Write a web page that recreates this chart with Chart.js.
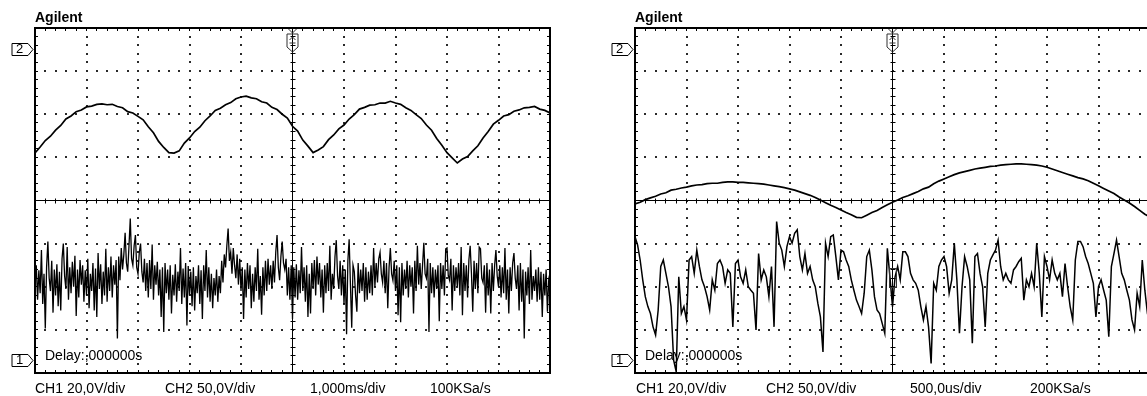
<!DOCTYPE html>
<html>
<head>
<meta charset="utf-8">
<script src="https://cdn.jsdelivr.net/npm/chart.js@4.4.0/dist/chart.umd.min.js"></script>
<style>
html, body { margin: 0; padding: 0; background: #fff; width: 1147px; height: 396px; overflow: hidden; }
.scope { position: absolute; top: 0; width: 600px; height: 396px; }
.scope canvas { position: absolute; left: 0; top: 0; }
.lbl { position: absolute; font-family: "Liberation Sans", Arial, sans-serif; font-size: 14px; line-height: 16px; color: #000; white-space: nowrap; }
.brand { font-weight: bold; }
.mark { font-size: 13px; line-height: 14px; }
</style>
</head>
<body>
<div class="scope" style="left:0">
  <canvas id="scopeLeft" width="600" height="396"></canvas>
  <div class="lbl brand" style="left:35px;top:9px">Agilent</div>
  <div class="lbl mark" style="left:16px;top:42px">2</div>
  <div class="lbl mark" style="left:16px;top:353px">1</div>
  <div class="lbl" style="left:45px;top:347px">Delay:,000000s</div>
  <div class="lbl" style="left:35px;top:380px">CH1 20,0V/div</div>
  <div class="lbl" style="left:165px;top:380px">CH2 50,0V/div</div>
  <div class="lbl" style="left:310px;top:380px">1,000ms/div</div>
  <div class="lbl" style="left:430px;top:380px">100KSa/s</div>
</div>
<div class="scope" style="left:600px">
  <canvas id="scopeRight" width="600" height="396"></canvas>
  <div class="lbl brand" style="left:35px;top:9px">Agilent</div>
  <div class="lbl mark" style="left:16px;top:42px">2</div>
  <div class="lbl mark" style="left:16px;top:353px">1</div>
  <div class="lbl" style="left:45px;top:347px">Delay:,000000s</div>
  <div class="lbl" style="left:36px;top:380px">CH1 20,0V/div</div>
  <div class="lbl" style="left:166px;top:380px">CH2 50,0V/div</div>
  <div class="lbl" style="left:310px;top:380px">500,0us/div</div>
  <div class="lbl" style="left:430px;top:380px">200KSa/s</div>
</div>
<script>
// screen is 10 x 8 divisions, values in divisions from centre
const xDivs = 10;
const yDivs = 4;
const refLevels = [3.5, -3.7];   // CH2, CH1 ground markers

// 1,000ms/div screen
const leftCh2 = [
  1.10, 1.24, 1.39, 1.49, 1.63, 1.74, 1.89, 1.96, 2.06, 2.10,
  2.17, 2.19, 2.23, 2.24, 2.22, 2.23, 2.18, 2.15, 2.06, 2.03,
  1.95, 1.87, 1.71, 1.57, 1.37, 1.23, 1.11, 1.10, 1.15, 1.33,
  1.45, 1.60, 1.70, 1.85, 1.96, 2.09, 2.14, 2.22, 2.27, 2.36,
  2.40, 2.42, 2.38, 2.36, 2.29, 2.26, 2.16, 2.11, 2.00, 1.91,
  1.72, 1.61, 1.40, 1.26, 1.11, 1.17, 1.25, 1.41, 1.52, 1.66,
  1.75, 1.89, 1.99, 2.12, 2.16, 2.21, 2.22, 2.26, 2.26, 2.30,
  2.26, 2.23, 2.15, 2.09, 1.99, 1.90, 1.75, 1.63, 1.44, 1.28,
  1.11, 0.99, 0.87, 0.96, 1.02, 1.15, 1.27, 1.45, 1.60, 1.77,
  1.86, 1.96, 1.99, 2.07, 2.10, 2.15, 2.16, 2.18, 2.12, 2.09,
  2.03
];
const leftCh1 = [
  -1.95, -1.50, -2.30, -1.62, -2.15, -1.15, -2.40, -1.70, -2.97, -1.55, -0.95, -1.80, -2.10, -1.40, -2.60, -1.60, -2.20, -1.48, -2.45, -1.65,
  -2.55, -1.35, -1.00, -1.75, -2.05, -1.08, -2.30, -1.55, -2.15, -1.42, -2.00, -1.28, -2.68, -1.60, -2.25, -1.38, -1.95, -1.50, -2.35, -1.62,
  -2.20, -1.35, -2.50, -1.70, -2.10, -1.45, -2.55, -1.58, -2.70, -1.22, -2.05, -1.48, -2.40, -1.65, -2.20, -1.12, -2.35, -1.55, -2.10, -1.30,
  -2.25, -1.50, -1.95, -1.38, -3.20, -1.30, -1.85, -1.10, -1.60, -1.25, -0.75, -1.45, -1.65, -1.05, -0.42, -1.35, -1.50, -1.05, -0.80, -1.55,
  -1.70, -1.20, -1.00, -1.65, -1.90, -1.35, -2.10, -1.45, -2.25, -1.38, -2.05, -1.02, -2.30, -1.50, -1.95, -1.42, -2.20, -1.60, -2.70, -1.55,
  -3.05, -1.45, -2.15, -1.60, -2.30, -1.50, -2.62, -1.72, -2.20, -1.48, -2.35, -1.65, -2.10, -1.10, -2.40, -1.58, -2.25, -1.45, -2.90, -1.52,
  -2.20, -1.65, -2.45, -1.55, -2.55, -1.75, -2.15, -1.50, -2.40, -1.62, -2.75, -1.50, -2.10, -1.15, -2.25, -1.55, -2.35, -1.70, -2.50, -1.80,
  -2.20, -1.60, -2.35, -1.75, -2.15, -1.40, -1.90, -1.25, -1.55, -1.05, -0.65, -1.40, -1.20, -1.70, -1.10, -1.50, -1.80, -1.25, -1.95, -1.35,
  -2.10, -1.55, -2.75, -1.60, -2.25, -1.45, -2.05, -1.50, -2.50, -1.70, -2.35, -1.55, -2.10, -1.12, -2.30, -1.75, -2.65, -1.55, -2.20, -1.40,
  -2.10, -1.35, -1.95, -1.50, -2.05, -1.40, -1.90, -1.20, -0.80, -1.55, -1.85, -1.30, -0.95, -1.45, -1.60, -1.35, -2.20, -1.55, -2.30, -1.50,
  -2.75, -1.55, -2.25, -1.48, -2.30, -1.62, -2.15, -1.08, -2.10, -1.55, -2.35, -1.50, -2.70, -1.70, -2.62, -1.45, -2.05, -1.38, -2.20, -1.30,
  -1.95, -1.45, -2.25, -1.60, -2.60, -1.50, -2.15, -1.45, -2.10, -1.05, -2.30, -1.70, -2.05, -1.30, -0.92, -1.75, -2.05, -1.40, -2.20, -1.50,
  -2.40, -1.60, -3.10, -1.40, -0.90, -1.95, -2.95, -1.50, -1.65, -2.20, -2.58, -1.45, -2.15, -1.60, -2.10, -1.45, -2.35, -1.55, -2.30, -1.65,
  -2.15, -1.50, -2.20, -1.10, -2.00, -1.45, -1.90, -1.35, -1.20, -1.70, -1.90, -1.40, -2.15, -1.45, -2.50, -1.55, -1.10, -1.70, -1.85, -1.40,
  -2.10, -1.50, -2.66, -1.55, -2.82, -1.45, -2.20, -1.60, -2.05, -1.40, -2.25, -1.50, -2.00, -1.55, -2.62, -1.40, -2.10, -1.05, -1.95, -1.45,
  -2.05, -1.50, -0.98, -1.70, -1.80, -1.35, -3.05, -1.45, -2.15, -1.55, -2.25, -1.60, -2.05, -1.50, -2.80, -1.45, -2.05, -1.50, -2.20, -1.12,
  -1.10, -1.75, -1.85, -1.35, -2.55, -1.50, -2.10, -1.55, -2.00, -1.45, -2.20, -1.08, -2.66, -1.45, -2.10, -1.50, -2.25, -1.38, -1.05, -1.70,
  -2.58, -1.40, -2.05, -1.45, -2.15, -1.08, -1.12, -1.80, -1.90, -1.50, -2.60, -1.45, -2.20, -1.60, -2.62, -1.45, -2.10, -1.50, -1.15, -1.75,
  -2.00, -1.50, -2.25, -1.55, -2.15, -1.10, -2.30, -1.60, -2.62, -1.55, -2.10, -1.45, -1.22, -1.80, -2.05, -1.50, -2.55, -1.45, -2.35, -1.60,
  -3.20, -1.65, -2.20, -1.55, -2.40, -1.15, -2.30, -1.75, -2.10, -1.60, -2.35, -1.55, -2.30, -1.65, -2.70, -1.70, -2.20, -1.60, -2.58, -1.85,
  -2.00
];

// 500,0us/div screen
const rightCh2 = [
  -0.08, -0.04, 0.02, 0.06, 0.10, 0.15, 0.18, 0.24, 0.26, 0.29,
  0.31, 0.34, 0.36, 0.37, 0.39, 0.40, 0.40, 0.42, 0.43, 0.43,
  0.42, 0.42, 0.41, 0.40, 0.39, 0.38, 0.36, 0.34, 0.32, 0.30,
  0.27, 0.24, 0.20, 0.16, 0.12, 0.07, 0.01, -0.05, -0.11, -0.16,
  -0.22, -0.28, -0.33, -0.39, -0.40, -0.34, -0.28, -0.23, -0.16, -0.10,
  -0.04, 0.01, 0.07, 0.11, 0.16, 0.21, 0.27, 0.31, 0.39, 0.45,
  0.50, 0.55, 0.60, 0.64, 0.67, 0.70, 0.73, 0.75, 0.77, 0.79,
  0.80, 0.82, 0.83, 0.84, 0.85, 0.85, 0.84, 0.83, 0.82, 0.80,
  0.77, 0.73, 0.69, 0.65, 0.61, 0.57, 0.53, 0.50, 0.46, 0.40,
  0.34, 0.28, 0.22, 0.16, 0.08, 0.01, -0.06, -0.14, -0.23, -0.32,
  -0.38
];
const rightCh1 = [
  -0.84, -1.03, -1.38, -1.84, -2.23, -2.46, -2.62, -2.93, -3.12, -2.54,
  -1.53, -1.38, -1.69, -2.00, -2.46, -3.70, -3.97, -1.77, -2.62, -2.46,
  -2.77, -1.38, -1.30, -1.69, -1.15, -1.53, -1.84, -2.00, -2.23, -2.54,
  -1.84, -2.08, -1.46, -1.38, -1.53, -1.92, -1.61, -1.69, -2.93, -1.46,
  -1.38, -1.77, -1.92, -1.61, -2.00, -2.08, -2.15, -3.00, -1.23, -1.84,
  -1.61, -1.77, -2.23, -1.53, -2.93, -0.49, -0.99, -1.15, -1.53, -1.07,
  -0.84, -0.99, -0.76, -0.68, -1.30, -1.61, -1.23, -1.69, -1.53, -1.84,
  -2.00, -2.38, -2.70, -3.51, -0.99, -1.30, -0.84, -0.80, -1.30, -1.84,
  -1.15, -1.19, -1.38, -1.53, -1.84, -2.08, -2.31, -2.46, -2.62, -2.15,
  -1.30, -1.15, -1.61, -2.23, -2.54, -2.62, -2.85, -3.08, -1.11, -1.77,
  -2.46, -1.77, -1.53, -1.84, -1.19, -1.19, -1.30, -1.69, -1.84, -1.92,
  -2.08, -2.46, -2.77, -2.46, -2.93, -3.78, -1.92, -2.08, -1.53, -1.38,
  -1.30, -1.53, -2.15, -1.84, -0.99, -1.84, -3.08, -2.00, -1.30, -1.53,
  -1.84, -3.31, -1.30, -1.23, -1.69, -2.00, -2.93, -1.69, -1.38, -1.26,
  -1.15, -0.92, -1.53, -1.84, -1.69, -1.84, -1.92, -1.61, -1.53, -1.42,
  -1.34, -2.31, -1.84, -2.00, -1.69, -2.00, -0.99, -1.69, -2.70, -1.30,
  -1.53, -1.84, -1.38, -1.69, -1.84, -1.69, -2.23, -1.46, -2.00, -2.46,
  -2.77, -1.38, -0.95, -0.95, -1.07, -1.30, -1.46, -1.69, -1.92, -2.70,
  -2.00, -1.84, -2.08, -2.31, -3.16, -1.53, -1.23, -0.92, -1.30, -1.69,
  -1.84, -2.08, -2.31, -2.77, -3.00, -2.15, -2.46, -1.38, -2.08, -2.62,
  -2.85
];

function toPoints(values) {
  const step = xDivs / (values.length - 1);
  return values.map((v, i) => ({ x: i * step, y: v }));
}

// dotted graticule, centre cross and edge ticks
const graticule = {
  id: 'graticule',
  beforeDatasetsDraw(chart) {
    const { ctx, chartArea: a, scales: { x, y } } = chart;
    ctx.save();
    ctx.fillStyle = '#2a2a2a';
    for (let gx = 1; gx < xDivs; gx++) {
      if (gx === xDivs / 2) continue;
      const px = Math.round(x.getPixelForValue(gx)) - 1;
      for (let k = 1; k < yDivs * 10; k++) {
        const py = Math.round(y.getPixelForValue(-yDivs + k * 0.2)) - 1;
        ctx.fillRect(px, py, 2, 2);
      }
    }
    for (let gy = -yDivs + 1; gy < yDivs; gy++) {
      if (gy === 0) continue;
      const py = Math.round(y.getPixelForValue(gy)) - 1;
      for (let k = 1; k < xDivs * 5; k++) {
        const px = Math.round(x.getPixelForValue(k * 0.2)) - 1;
        ctx.fillRect(px, py, 2, 2);
      }
    }

    ctx.strokeStyle = '#000';
    ctx.lineWidth = 1;
    const cx = Math.floor(x.getPixelForValue(xDivs / 2)) + 0.5;
    const cy = Math.floor(y.getPixelForValue(0)) + 0.5;
    ctx.beginPath();
    ctx.moveTo(cx, a.top); ctx.lineTo(cx, a.bottom);
    ctx.moveTo(a.left, cy); ctx.lineTo(a.right, cy);
    for (let k = 1; k < xDivs * 5; k++) {
      const px = Math.floor(x.getPixelForValue(k * 0.2)) + 0.5;
      ctx.moveTo(px, cy - 2); ctx.lineTo(px, cy + 3);
      ctx.moveTo(px, a.top); ctx.lineTo(px, a.top + 3);
      ctx.moveTo(px, a.bottom); ctx.lineTo(px, a.bottom - 3);
    }
    for (let k = 1; k < yDivs * 10; k++) {
      const py = Math.floor(y.getPixelForValue(-yDivs + k * 0.2)) + 0.5;
      ctx.moveTo(cx - 2, py); ctx.lineTo(cx + 3, py);
      ctx.moveTo(a.left, py); ctx.lineTo(a.left + 3, py);
      ctx.moveTo(a.right, py); ctx.lineTo(a.right - 3, py);
    }
    ctx.stroke();
    ctx.restore();
  },
  afterDraw(chart, args, opts) {
    const { ctx, chartArea: a, scales: { x, y } } = chart;
    ctx.save();
    ctx.strokeStyle = '#000';
    ctx.lineWidth = 2;
    ctx.strokeRect(a.left, a.top, a.right - a.left, a.bottom - a.top);

    // channel ground markers
    ctx.lineWidth = 1;
    refLevels.forEach(level => {
      const my = Math.floor(y.getPixelForValue(level)) + 0.5;
      ctx.beginPath();
      ctx.moveTo(a.left - 23, my - 6);
      ctx.lineTo(a.left - 7, my - 6);
      ctx.lineTo(a.left - 2, my);
      ctx.lineTo(a.left - 7, my + 6);
      ctx.lineTo(a.left - 23, my + 6);
      ctx.closePath();
      ctx.stroke();
    });

    // trigger position marker
    const tx = Math.floor(x.getPixelForValue(xDivs / 2)) + 0.5;
    ctx.strokeStyle = '#333';
    ctx.beginPath();
    ctx.moveTo(tx - 4, a.top + 1); ctx.lineTo(tx, a.top + 5); ctx.lineTo(tx + 4, a.top + 1);
    ctx.moveTo(tx - 5.5, a.top + 6);
    ctx.lineTo(tx + 5.5, a.top + 6);
    ctx.lineTo(tx + 5.5, a.top + 19);
    ctx.lineTo(tx, a.top + 24);
    ctx.lineTo(tx - 5.5, a.top + 19);
    ctx.closePath();
    ctx.moveTo(tx - 3, a.top + 12); ctx.lineTo(tx, a.top + 9); ctx.lineTo(tx + 3, a.top + 12);
    ctx.moveTo(tx - 3, a.top + 15); ctx.lineTo(tx + 3, a.top + 15);
    ctx.stroke();

    // trigger level box
    if (opts.levelBox) {
      const y1 = y.getPixelForValue(opts.levelBox[0]);
      const y2 = y.getPixelForValue(opts.levelBox[1]);
      ctx.strokeStyle = '#333';
      ctx.strokeRect(tx - 3, Math.floor(y1) + 0.5, 7, Math.round(y2 - y1));
    }
    ctx.restore();
  }
};

function makeScope(canvasId, ch1, ch2, noiseWidth, levelBox) {
  return new Chart(document.getElementById(canvasId), {
    type: 'line',
    data: {
      datasets: [
        { label: 'CH2', data: toPoints(ch2), borderColor: '#000', borderWidth: 1.7 },
        { label: 'CH1', data: toPoints(ch1), borderColor: '#000', borderWidth: noiseWidth }
      ]
    },
    options: {
      responsive: false,
      animation: false,
      layout: { padding: { left: 35, top: 28, right: 50, bottom: 23 } },
      elements: { point: { radius: 0 }, line: { tension: 0, borderJoinStyle: 'miter' } },
      scales: {
        x: { type: 'linear', min: 0, max: xDivs, display: false },
        y: { type: 'linear', min: -yDivs, max: yDivs, display: false }
      },
      plugins: {
        legend: { display: false },
        tooltip: { enabled: false },
        graticule: { levelBox: levelBox }
      }
    },
    plugins: [graticule]
  });
}

makeScope('scopeLeft', leftCh1, leftCh2, 1.3, null);
makeScope('scopeRight', rightCh1, rightCh2, 1.5, [-1.57, -2.0]);
</script>
</body>
</html>
